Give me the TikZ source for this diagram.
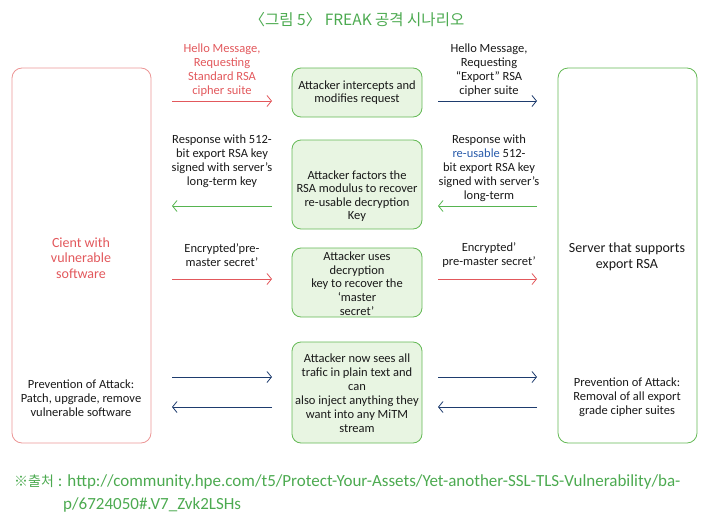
\documentclass[tikz,border=0pt]{standalone}
\usepackage{fontspec}
\setmainfont{Carlito}
\newfontfamily\krfont{Noto Sans CJK KR}
\usetikzlibrary{arrows.meta}
\definecolor{cred}{RGB}{226,88,92}
\definecolor{cpink}{RGB}{236,150,150}
\definecolor{cnavy}{RGB}{30,60,110}
\definecolor{cgreen}{RGB}{86,180,80}
\definecolor{cgbord}{RGB}{100,185,85}
\definecolor{cgfill}{RGB}{232,245,226}
\definecolor{ctitle}{RGB}{76,170,80}
\definecolor{cblue}{RGB}{40,90,170}
\tikzset{
  lbl/.style={align=center, inner sep=0pt, font=\fontsize{12.5}{14}\selectfont, text=black!90},
  bigl/.style={align=center, inner sep=0pt, font=\fontsize{14}{15.5}\selectfont},
  gbox/.style={draw=cgbord, fill=cgfill, rounded corners=9pt, line width=0.8pt, inner sep=0pt},
  sidebox/.style={rounded corners=10pt, line width=0.8pt, inner sep=0pt},
  arr/.style={line width=0.8pt, -{Straight Barb[length=4.5pt,width=11pt,line width=0.8pt]}},
}
\begin{document}
\begin{tikzpicture}[x=1pt,y=-1pt]
\useasboundingbox (0,0) rectangle (714,522);
% title
\node[inner sep=0pt, text=ctitle, font=\krfont\fontsize{15.5}{17}\selectfont] (title) at (357,20) {〈그림 5〉 FREAK 공격 시나리오};
% side boxes
\node[sidebox, draw=cpink, minimum width=139pt, minimum height=375pt] (client) at (81.5,255.5) {};
\node[sidebox, draw=cgbord, minimum width=139pt, minimum height=375pt] (server) at (627.5,255.5) {};
\node[bigl, text=cred] (clientt) at (81,258) {Cient with\\vulnerable\\software};
\node[lbl] (clientp) at (81,398) {Prevention of Attack:\\Patch, upgrade, remove\\vulnerable software};
\node[bigl, text=black!90] (servert) at (627,257) {Server that supports\\export RSA};
\node[lbl] (serverp) at (627,397) {Prevention of Attack:\\Removal of all export\\grade cipher suites};
% middle boxes
\node[gbox, minimum width=130pt, minimum height=49pt] (b1) at (357,92.5) {};
\node[lbl, font=\fontsize{12.5}{13}\selectfont] (b1t) at (357,93) {Attacker intercepts and\\modifies request};
\node[gbox, minimum width=130pt, minimum height=89pt] (b2) at (357,184.5) {};
\node[lbl, font=\fontsize{12.5}{13.5}\selectfont] (b2t) at (357,196) {Attacker factors the\\RSA modulus to recover\\re-usable decryption\\Key};
\node[gbox, minimum width=130pt, minimum height=69pt] (b3) at (357,282.5) {};
\node[lbl, font=\fontsize{12.5}{13.7}\selectfont] (b3t) at (357,283.5) {Attacker uses\\decryption\\key to recover the\\`master\\secret'};
\node[gbox, minimum width=130pt, minimum height=101pt] (b4) at (357,392.5) {};
\node[lbl] (b4t) at (357,393) {Attacker now sees all\\trafic in plain text and\\can\\also inject anything they\\want into any MiTM\\stream};
% labels
\node[lbl, text=cred] (l1) at (222,70) {Hello Message,\\Requesting\\Standard RSA\\cipher suite};
\node[lbl] (r1) at (489,70) {Hello Message,\\Requesting\\``Export'' RSA\\cipher suite};
\node[lbl] (l2) at (222,161.5) {Response with 512-\\bit export RSA key\\signed with server's\\long-term key};
\node[lbl] (r2) at (489,168.5) {Response with\\{\color{cblue}re-usable} 512-\\bit export RSA key\\signed with server's\\long-term};
\node[lbl] (l3) at (222,255) {Encrypted'pre-\\master secret'};
\node[lbl] (r3) at (489,255) {Encrypted'\\pre-master secret'};
% arrow end coordinates
\coordinate (a1) at (172,101); \coordinate (a2) at (272,101);
\coordinate (a3) at (438,101); \coordinate (a4) at (537,101);
\coordinate (c1) at (172,206); \coordinate (c2) at (272,206);
\coordinate (c3) at (438,206); \coordinate (c4) at (537,206);
\coordinate (e1) at (172,279); \coordinate (e2) at (272,279);
\coordinate (e3) at (438,279); \coordinate (e4) at (537,279);
\coordinate (f1) at (172,377); \coordinate (f2) at (272,377);
\coordinate (f3) at (438,377); \coordinate (f4) at (537,377);
\coordinate (g1) at (172,407); \coordinate (g2) at (272,407);
\coordinate (g3) at (438,407); \coordinate (g4) at (537,407);
\draw[arr, cred] (a1) -- (a2);
\draw[arr, cnavy] (a3) -- (a4);
\draw[arr, cgreen] (c2) -- (c1);
\draw[arr, cgreen] (c4) -- (c3);
\draw[arr, cred] (e1) -- (e2);
\draw[arr, cred] (e3) -- (e4);
\draw[arr, cnavy] (f1) -- (f2);
\draw[arr, cnavy] (f3) -- (f4);
\draw[arr, cnavy] (g2) -- (g1);
\draw[arr, cnavy] (g4) -- (g3);
% footnote
\node[anchor=base west, inner sep=0pt, text=ctitle, font=\fontsize{17}{20}\selectfont] (fn1) at (14,486) {{\krfont\fontsize{14}{16}\selectfont ※출처} : http://community.hpe.com/t5/Protect-Your-Assets/Yet-another-SSL-TLS-Vulnerability/ba-};
\node[anchor=base west, inner sep=0pt, text=ctitle, font=\fontsize{17}{20}\selectfont] (fn2) at (63,509) {p/6724050\#.V7\_Zvk2LSHs};
\end{tikzpicture}
\end{document}
